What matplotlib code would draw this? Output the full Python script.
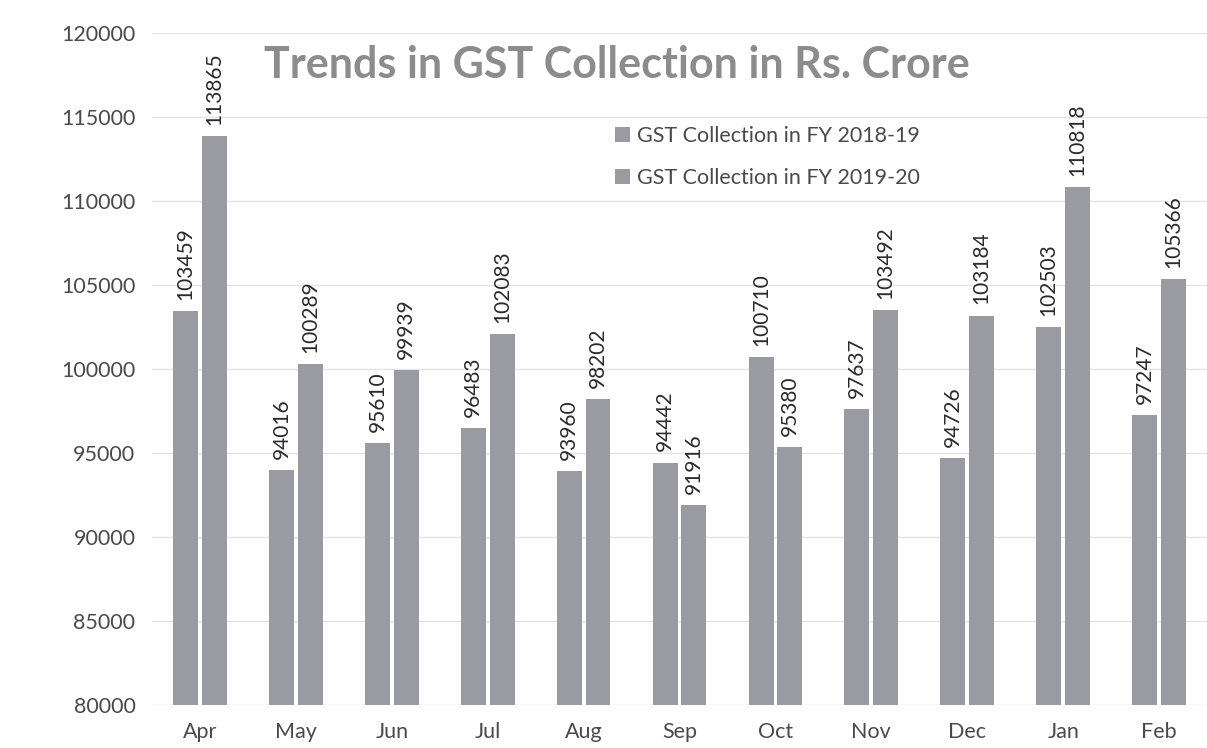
import numpy as np
import matplotlib
matplotlib.use('Agg')
from matplotlib import pyplot as plt

plt.rcParams['font.family'] = ['Lato', 'DejaVu Sans']

months = ['Apr', 'May', 'Jun', 'Jul', 'Aug', 'Sep', 'Oct', 'Nov', 'Dec', 'Jan', 'Feb']
fy_2018_19 = [103459, 94016, 95610, 96483, 93960, 94442, 100710, 97637, 94726, 102503, 97247]
fy_2019_20 = [113865, 100289, 99939, 102083, 98202, 91916, 95380, 103492, 103184, 110818, 105366]
yticks = [80000, 85000, 90000, 95000, 100000, 105000, 110000, 115000, 120000]

bar_col = '#9a9aa2'
x = np.arange(len(months))
w = 0.26
off = 0.15

fig = plt.figure(figsize=(12.07, 7.48), dpi=100)
ax = fig.add_axes([0.126, 0.057, 0.874, 0.899])

b1 = ax.bar(x - off, fy_2018_19, w, color=bar_col, label='GST Collection in FY 2018-19', zorder=2)
b2 = ax.bar(x + off, fy_2019_20, w, color=bar_col, label='GST Collection in FY 2019-20', zorder=2)

# value labels, rotated like the excel chart
for bars in (b1, b2):
    for rect in bars:
        h = rect.get_height()
        ax.annotate(str(int(h)), (rect.get_x() + rect.get_width() / 2, h),
                    xytext=(0, 8), textcoords='offset points',
                    rotation=90, ha='center', va='bottom', fontsize=15, color='#2b2b2b')

ax.set_ylim(80000, 120000)
ax.set_xlim(-0.5, 10.5)
ax.set_yticks(yticks)
ax.set_xticks(x)
ax.set_xticklabels(months)
ax.tick_params(axis='both', length=0, labelsize=15.5, colors='#4a4a4a')
ax.tick_params(axis='x', pad=12)
ax.tick_params(axis='y', pad=12)
ax.grid(axis='y', color='#e4e4e4', linewidth=1, zorder=0)
for s in ax.spines.values():
    s.set_visible(False)

fig.text(0.511, 0.913, 'Trends in GST Collection in Rs. Crore', ha='center', va='center',
         fontsize=31, fontweight='bold', color='#8c8c8c')

ax.legend(loc='upper left', bbox_to_anchor=(0.42, 0.89), frameon=False, fontsize=15.5,
          labelcolor='#4a4a4a', handlelength=0.7, handleheight=0.7, handletextpad=0.35,
          labelspacing=1.0)

plt.savefig('out.png', dpi=100)
